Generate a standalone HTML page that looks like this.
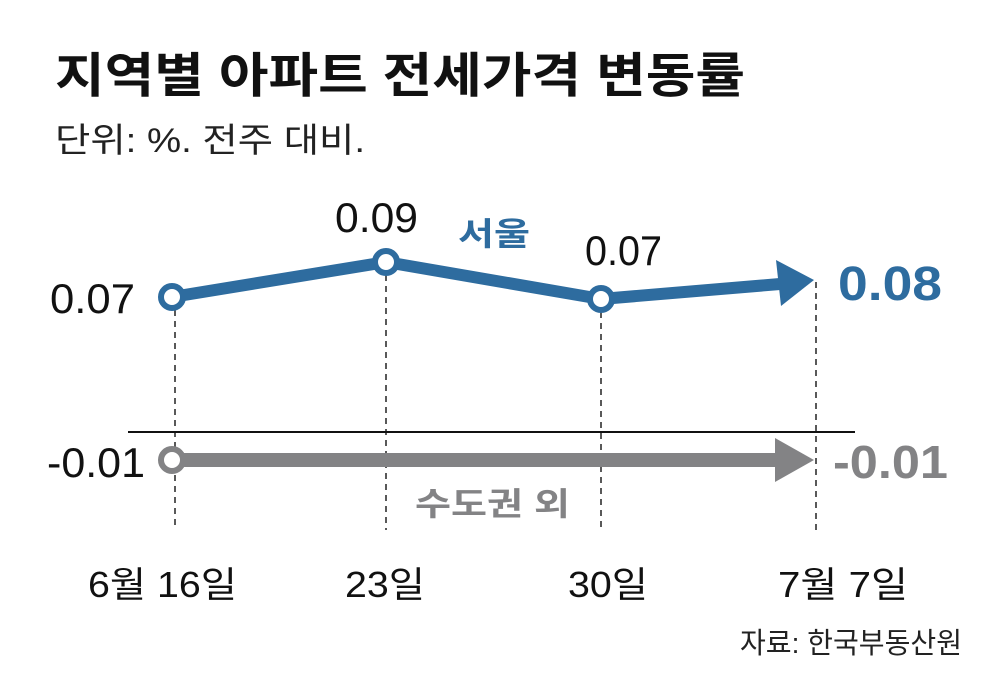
<!DOCTYPE html>
<html><head><meta charset="utf-8"><style>
html,body{margin:0;padding:0;background:#fff;}
svg{display:block;font-family:"Liberation Sans","Noto Sans CJK KR",sans-serif;}
</style></head><body>
<svg width="1000" height="698" viewBox="0 0 1000 698" xmlns="http://www.w3.org/2000/svg">
<text x="55" y="92" font-size="48" font-weight="bold" fill="#111" textLength="690" lengthAdjust="spacingAndGlyphs">지역별 아파트 전세가격 변동률</text>
<text x="55" y="152" font-size="34" fill="#222" textLength="310" lengthAdjust="spacingAndGlyphs">단위: %. 전주 대비.</text>
<g stroke="#222" stroke-width="1.5" stroke-dasharray="6,5">
<line x1="175" y1="310" x2="175" y2="530"/>
<line x1="386" y1="275" x2="386" y2="530"/>
<line x1="601" y1="312" x2="601" y2="530"/>
<line x1="816" y1="282" x2="816" y2="530"/>
</g>
<line x1="128" y1="432" x2="855" y2="432" stroke="#111" stroke-width="2"/>
<polyline points="172,297 386,262 601,299 780,284" fill="none" stroke="#2e6c9f" stroke-width="12" stroke-linejoin="round"/>
<polygon points="776,260 814,280 781,306" fill="#2e6c9f"/>
<line x1="172" y1="460" x2="778" y2="460" stroke="#838385" stroke-width="14"/>
<polygon points="775,438 814,460 775,482" fill="#838385"/>
<g stroke-width="6" fill="#fff">
<circle cx="172" cy="297" r="11" stroke="#2e6c9f"/>
<circle cx="386" cy="262" r="11" stroke="#2e6c9f"/>
<circle cx="601" cy="299" r="11" stroke="#2e6c9f"/>
<circle cx="172" cy="460" r="11" stroke="#838385"/>
</g>
<g font-size="42" fill="#111">
<text x="50" y="313" textLength="85" lengthAdjust="spacingAndGlyphs">0.07</text>
<text x="335" y="232" textLength="83" lengthAdjust="spacingAndGlyphs">0.09</text>
<text x="585" y="265" textLength="77" lengthAdjust="spacingAndGlyphs">0.07</text>
<text x="47" y="477" textLength="98" lengthAdjust="spacingAndGlyphs">-0.01</text>
</g>
<text x="458" y="245" font-size="32" font-weight="bold" fill="#2e6c9f" textLength="72" lengthAdjust="spacingAndGlyphs">서울</text>
<text x="838" y="300" font-size="48" font-weight="bold" fill="#2e6c9f" textLength="104" lengthAdjust="spacingAndGlyphs">0.08</text>
<text x="833" y="478" font-size="46" font-weight="bold" fill="#838385" textLength="115" lengthAdjust="spacingAndGlyphs">-0.01</text>
<text x="415" y="515" font-size="32" font-weight="bold" fill="#838385" textLength="155" lengthAdjust="spacingAndGlyphs">수도권 외</text>
<g font-size="36" fill="#111">
<text x="88" y="597" textLength="149" lengthAdjust="spacingAndGlyphs">6월 16일</text>
<text x="345" y="597" textLength="80" lengthAdjust="spacingAndGlyphs">23일</text>
<text x="568" y="597" textLength="80" lengthAdjust="spacingAndGlyphs">30일</text>
<text x="778" y="597" textLength="130" lengthAdjust="spacingAndGlyphs">7월 7일</text>
</g>
<text x="740" y="653" font-size="29" fill="#222" textLength="222" lengthAdjust="spacingAndGlyphs">자료: 한국부동산원</text>
</svg>
</body></html>
